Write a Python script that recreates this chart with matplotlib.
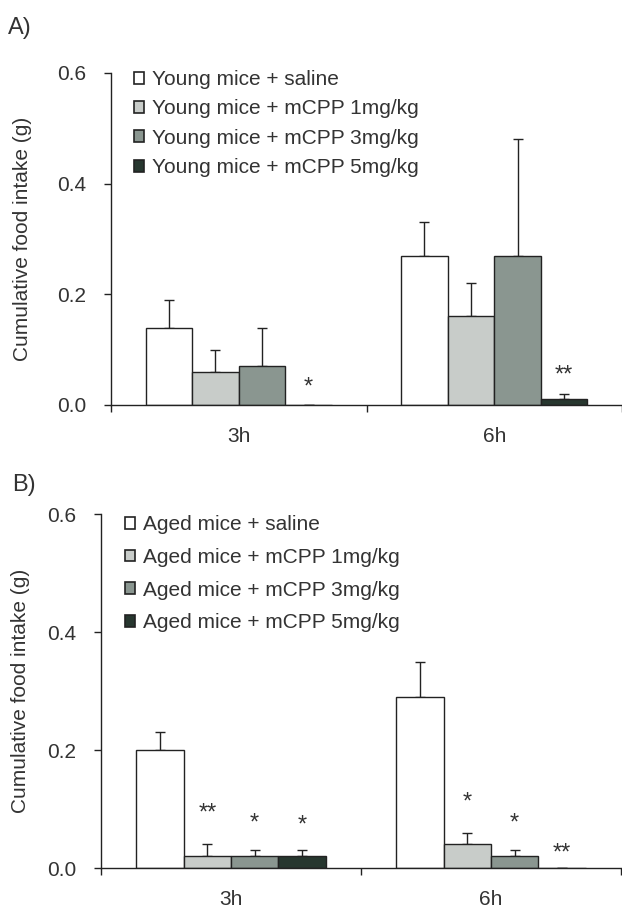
import numpy as np
import matplotlib
matplotlib.use("Agg")
import matplotlib.pyplot as plt
import matplotlib.patches as mpatches

plt.rcParams["font.family"] = ["Liberation Sans", "DejaVu Sans"]
FS = 15

TEXT = "#333333"
EDGE = "#222222"
COLORS = ["#ffffff", "#c8ccc9", "#8a9690", "#27372f"]

# --- Data ---
groups = ["3h", "6h"]

labels_A = ["Young mice + saline", "Young mice + mCPP 1mg/kg",
            "Young mice + mCPP 3mg/kg", "Young mice + mCPP 5mg/kg"]
# rows = series (saline, 1, 3, 5 mg/kg), cols = 3h, 6h
mean_A = [[0.14, 0.27], [0.06, 0.16], [0.07, 0.27], [0.0, 0.01]]
sem_A = [[0.05, 0.06], [0.04, 0.06], [0.07, 0.21], [0.0, 0.01]]
star_group_A = [0, 1]
star_series_A = [3, 3]
star_text_A = ["*", "**"]
star_y_A = [0.045, 0.067]

labels_B = ["Aged mice + saline", "Aged mice + mCPP 1mg/kg",
            "Aged mice + mCPP 3mg/kg", "Aged mice + mCPP 5mg/kg"]
mean_B = [[0.20, 0.29], [0.02, 0.04], [0.02, 0.02], [0.02, 0.0]]
sem_B = [[0.03, 0.06], [0.02, 0.02], [0.01, 0.01], [0.01, 0.0]]
star_group_B = [0, 0, 0, 1, 1, 1]
star_series_B = [1, 2, 3, 1, 2, 3]
star_text_B = ["**", "*", "*", "*", "*", "**"]
star_y_B = [0.105, 0.088, 0.085, 0.124, 0.088, 0.037]

W, H = 622, 910
fig = plt.figure(figsize=(W / 100, H / 100), dpi=100)

BAR_W = 0.182
STAR_FS = 17


def panel(rect, xmax, labels, means, sems, s_group, s_series, s_text, s_y,
          leg_xy, row_px, letter, letter_xy, ylab_x):
    ax = fig.add_axes(rect)
    x = np.arange(len(groups))
    offsets = (np.arange(4) - 1.5) * BAR_W
    for i in range(4):
        m = np.array(means[i])
        e = np.array(sems[i])
        ax.bar(x + offsets[i], m, BAR_W, color=COLORS[i], edgecolor=EDGE,
               linewidth=1.0, label=labels[i], zorder=2,
               yerr=[np.zeros_like(e), e], capsize=3.6,
               error_kw=dict(ecolor=EDGE, elinewidth=1.0, capthick=1.0,
                             zorder=1))
    for g, s, t, yv in zip(s_group, s_series, s_text, s_y):
        ax.annotate(t, (x[g] + offsets[s], yv), xytext=(0, -0.58 * STAR_FS),
                    textcoords="offset points", ha="center", va="baseline",
                    fontsize=STAR_FS, color=TEXT)

    ax.set_xlim(-0.5, xmax)
    ax.set_ylim(0, 0.6)
    ax.set_yticks([0.0, 0.2, 0.4, 0.6])
    ax.set_yticklabels(["0.0", "0.2", "0.4", "0.6"])
    ax.set_xticks([-0.5, 0.5, 1.5])
    ax.set_xticklabels([])
    ax.set_xticks(x, minor=True)
    ax.set_xticklabels(groups, minor=True)
    ax.tick_params(axis="x", which="major", direction="out", length=5,
                   width=1.0, color=EDGE)
    ax.tick_params(axis="x", which="minor", length=0, pad=16,
                   labelsize=FS, labelcolor=TEXT)
    ax.tick_params(axis="y", direction="out", length=5, width=1.0,
                   color=EDGE, pad=13, labelsize=FS, labelcolor=TEXT)
    for sp in ["top", "right"]:
        ax.spines[sp].set_visible(False)
    for sp in ["left", "bottom"]:
        ax.spines[sp].set_color(EDGE)
        ax.spines[sp].set_linewidth(1.0)

    ax.set_ylabel("Cumulative food intake (g)", fontsize=FS, color=TEXT)
    ax.yaxis.set_label_coords(ylab_x, 0.5)
    ax.yaxis.label.set_va("center")

    handles = [mpatches.Patch(facecolor=COLORS[i], edgecolor=EDGE,
                              linewidth=1.2, label=labels[i]) for i in range(4)]
    # row pitch in px -> labelspacing in font-size units
    spacing = (row_px * 0.72 - FS * 0.92) / FS
    leg = ax.legend(handles=handles, loc="upper left",
                    bbox_to_anchor=(leg_xy[0] / W, 1 - leg_xy[1] / H),
                    bbox_transform=fig.transFigure, frameon=False,
                    fontsize=FS, handlelength=7.5 / FS, handleheight=7.5 / FS,
                    handletextpad=5.5 / FS, labelspacing=spacing,
                    borderpad=0, borderaxespad=0)
    for t in leg.get_texts():
        t.set_color(TEXT)

    fig.text(letter_xy[0] / W, 1 - letter_xy[1] / H, letter, fontsize=FS + 2,
             color=TEXT, ha="left", va="baseline")
    return ax


panel([111 / W, 1 - 405 / H, 511 / W, 332 / H], 1.465, labels_A, mean_A,
      sem_A, star_group_A, star_series_A, star_text_A, star_y_A,
      (134, 70), 29.5, "A)", (8, 34), -0.174)
panel([101 / W, 1 - 868 / H, 521 / W, 354 / H], 1.504, labels_B, mean_B,
      sem_B, star_group_B, star_series_B, star_text_B, star_y_B,
      (125, 515), 33.0, "B)", (12, 491), -0.154)

fig.savefig("out.png", dpi=100, facecolor="white")
